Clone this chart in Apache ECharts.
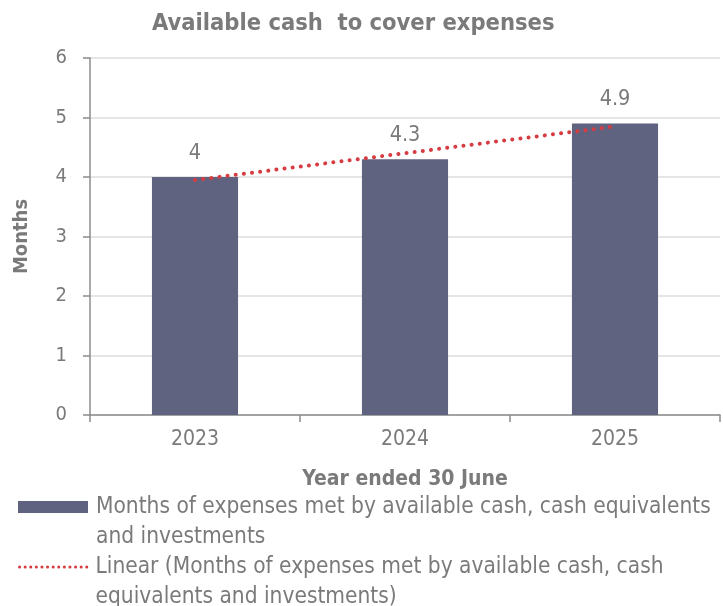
<!DOCTYPE html>
<html>
<head>
<meta charset="utf-8">
<script src="https://cdn.jsdelivr.net/npm/echarts@6/dist/echarts.min.js"></script>
<style>
  html, body { margin: 0; padding: 0; background: #fff; }
  #main { width: 723px; height: 606px; }
</style>
</head>
<body>
<div id="main"></div>
<script>
// chart data
var years = ['2023', '2024', '2025'];
var monthsCovered = [4, 4.3, 4.9];
var trendValues = [3.95, 4.4, 4.85];   // linear trendline as drawn
var yTicks = [0, 1, 2, 3, 4, 5, 6];

var barName = 'Months of expenses met by available cash, cash equivalents and investments';
var trendName = 'Linear (Months of expenses met by available cash, cash equivalents and investments)';
var legendLines = {};
legendLines[barName] = ['Months of expenses met by available cash, cash equivalents', 'and investments'];
legendLines[trendName] = ['Linear (Months of expenses met by available cash, cash', 'equivalents and investments)'];

var font = '"DejaVu Sans Condensed", Roboto, sans-serif';
var grey = '#7a7a7a';
var axisGrey = '#8c8c8c';
var red = '#d63d42';

var chart = echarts.init(document.getElementById('main'));

function legendText(padLeft) {
      return {
            color: grey,
            fontFamily: font,
            fontSize: 22.5,
            lineHeight: 30,
            padding: [0, 0, 0, padLeft]
      };
}

function legendLabel(name) {
      // empty first line keeps the icon level with the first text line
      return '\n' + legendLines[name].join('\n');
}

chart.setOption({
      animation: false,
      title: {
            text: 'Available cash  to cover expenses',
            left: 147,
            top: 7,
            textStyle: {
                  color: grey,
                  fontFamily: font,
                  fontSize: 23.5,
                  fontWeight: 'bold'
            }
      },
      legend: [
            {
                  data: [barName],
                  orient: 'vertical',
                  left: 18,
                  top: 462,
                  padding: 0,
                  itemWidth: 70,
                  itemHeight: 12,
                  icon: 'rect',
                  textStyle: legendText(3),
                  formatter: legendLabel
            },
            {
                  data: [trendName],
                  orient: 'vertical',
                  left: 18,
                  top: 522,
                  padding: 0,
                  itemWidth: 70,
                  itemHeight: 12,
                  itemStyle: { color: 'rgba(0,0,0,0)', borderWidth: 0 },
                  lineStyle: { color: red, width: 3, type: [0.1, 5.5], cap: 'round' },
                  textStyle: legendText(1),
                  formatter: legendLabel
            }
      ],
      grid: {
            left: 90,
            right: 3,
            top: 58,
            bottom: 191
      },
      xAxis: {
            type: 'category',
            data: years,
            name: 'Year ended 30 June',
            nameLocation: 'middle',
            nameGap: 54,
            nameTextStyle: {
                  color: grey,
                  fontFamily: font,
                  fontSize: 21,
                  fontWeight: 'bold'
            },
            axisLine: { lineStyle: { color: axisGrey, width: 1.5 } },
            axisTick: { show: true, length: 7, lineStyle: { color: axisGrey, width: 1.5 } },
            axisLabel: {
                  color: grey,
                  fontFamily: font,
                  fontSize: 21,
                  margin: 14
            }
      },
      yAxis: {
            type: 'value',
            min: yTicks[0],
            max: yTicks[yTicks.length - 1],
            interval: 1,
            name: 'Months',
            nameLocation: 'middle',
            nameGap: 58,
            nameTextStyle: {
                  color: grey,
                  fontFamily: font,
                  fontSize: 20,
                  fontWeight: 'bold'
            },
            axisLine: { show: true, lineStyle: { color: axisGrey, width: 1.5 } },
            axisTick: { show: true, length: 7, lineStyle: { color: axisGrey, width: 1.5 } },
            axisLabel: {
                  color: grey,
                  fontFamily: font,
                  fontSize: 20,
                  margin: 23
            },
            splitLine: { lineStyle: { color: '#dcdcdc', width: 1.5 } }
      },
      series: [
            {
                  name: barName,
                  type: 'bar',
                  data: monthsCovered,
                  barWidth: '41%',
                  itemStyle: { color: '#5f6380' },
                  label: {
                        show: true,
                        position: 'top',
                        distance: 13,
                        color: grey,
                        fontFamily: font,
                        fontSize: 21.5
                  }
            },
            {
                  name: trendName,
                  type: 'line',
                  data: trendValues,
                  symbol: 'none',
                  z: 5,
                  lineStyle: {
                        color: red,
                        width: 4,
                        type: [0.1, 8.1],
                        cap: 'round'
                  },
                  itemStyle: { color: red }
            }
      ]
});
</script>
</body>
</html>
